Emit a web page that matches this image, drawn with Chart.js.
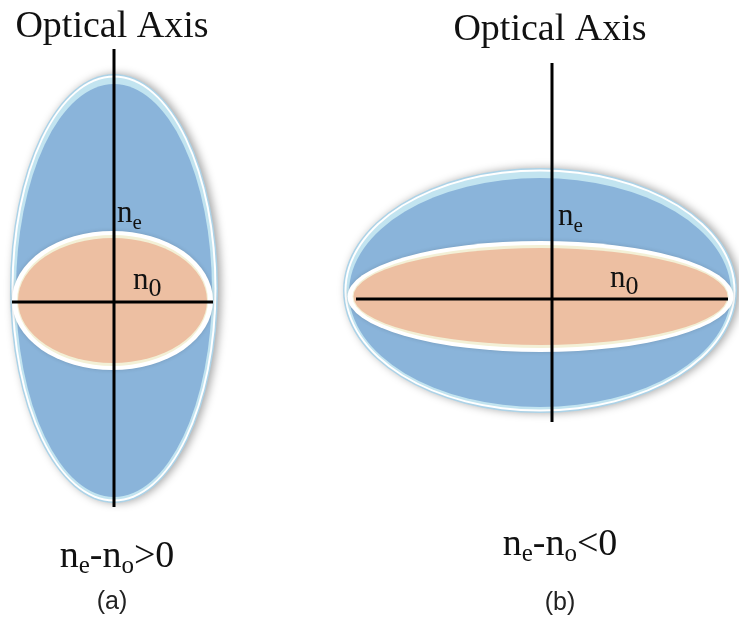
<!DOCTYPE html>
<html>
<head>
<meta charset="utf-8">
<title>Index ellipsoids</title>
<script src="https://cdn.jsdelivr.net/npm/chart.js@4/dist/chart.umd.min.js"></script>
<style>
  html, body { margin: 0; padding: 0; background: #ffffff; }
  #wrap { width: 739px; height: 624px; }
</style>
</head>
<body>
<div id="wrap"><canvas id="c" width="739" height="624"></canvas></div>
<script>
// Panels: (a) positive uniaxial crystal, (b) negative uniaxial crystal
const panelLabels = ['(a)', '(b)'];
const axisTitles = ['Optical Axis', 'Optical Axis'];
const signLabels = [
  [['n', 0], ['e', 1], ['-n', 0], ['o', 1], ['>0', 0]],
  [['n', 0], ['e', 1], ['-n', 0], ['o', 1], ['<0', 0]]
];

// Index ellipse (n_e along the optical axis), in plot units
const neCenterX = [114, 540];
const neCenterY = [288.5, 290.5];
const neSemiX = [104, 197];
const neSemiY = [214.5, 122.5];

// Ordinary cross-section (n_0)
const noCenterX = [112.5, 540.5];
const noCenterY = [300.5, 296.5];
const noSemiX = [100.5, 193];
const noSemiY = [69.5, 55.5];

// Optical axis (vertical) and ordinary axis (horizontal) segments
const opticAxisX = [114, 552];
const opticAxisTop = [49, 63];
const opticAxisBottom = [507, 422];
const ordAxisY = [302, 299];
const ordAxisLeft = [12, 356];
const ordAxisRight = [213, 728];

// Label anchors
const titleX = [112, 550];
const titleY = [37, 40];
const neLabelX = [117, 558];
const neLabelY = [222, 225];
const noLabelX = [133, 610];
const noLabelY = [289, 287];
const signX = [117, 560];
const signY = [567, 555];
const panelLabelX = [112, 560];
const panelLabelY = [609, 610];

const segments = [];
for (let i = 0; i < panelLabels.length; i++) {
  segments.push({
    label: 'optic axis ' + panelLabels[i],
    data: [{x: opticAxisX[i], y: opticAxisTop[i]}, {x: opticAxisX[i], y: opticAxisBottom[i]}]
  });
  segments.push({
    label: 'ordinary axis ' + panelLabels[i],
    data: [{x: ordAxisLeft[i], y: ordAxisY[i]}, {x: ordAxisRight[i], y: ordAxisY[i]}]
  });
}

function ell(ctx, xs, ys, cx, cy, rx, ry) {
  const px = xs.getPixelForValue(cx), py = ys.getPixelForValue(cy);
  const rpx = Math.abs(xs.getPixelForValue(cx + rx) - px);
  const rpy = Math.abs(ys.getPixelForValue(cy + ry) - py);
  ctx.beginPath();
  ctx.ellipse(px, py, Math.max(rpx, 0.5), Math.max(rpy, 0.5), 0, 0, Math.PI * 2);
}

const ellipsoidPlugin = {
  id: 'ellipsoids',
  beforeDatasetsDraw(chart) {
    const ctx = chart.ctx, xs = chart.scales.x, ys = chart.scales.y;
    for (let i = 0; i < panelLabels.length; i++) {
      const cx = neCenterX[i], cy = neCenterY[i], rx = neSemiX[i], ry = neSemiY[i];
      // extraordinary index ellipse with soft drop shadow
      ctx.save();
      ctx.shadowColor = 'rgba(0,0,0,0.35)';
      ctx.shadowBlur = 9;
      ctx.shadowOffsetX = 3;
      ctx.shadowOffsetY = 0;
      ell(ctx, xs, ys, cx, cy, rx, ry);
      ctx.fillStyle = '#acd3e8';
      ctx.fill();
      ctx.restore();
      ell(ctx, xs, ys, cx, cy, rx - 1.5, ry - 1.5);
      ctx.fillStyle = '#ffffff';
      ctx.fill();
      ell(ctx, xs, ys, cx, cy, rx - 3.5, ry - 3.5);
      ctx.fillStyle = '#c2e4f0';
      ctx.fill();
      ell(ctx, xs, ys, cx, cy + 2, rx - 6, ry - 8);
      ctx.fillStyle = '#8ab4da';
      ctx.fill();

      // ordinary cross-section
      const ox = noCenterX[i], oy = noCenterY[i], orx = noSemiX[i], ory = noSemiY[i];
      ctx.save();
      ctx.shadowColor = 'rgba(0,0,0,0.15)';
      ctx.shadowBlur = 4;
      ell(ctx, xs, ys, ox, oy, orx, ory);
      ctx.fillStyle = '#ffffff';
      ctx.fill();
      ctx.restore();
      ell(ctx, xs, ys, ox, oy, orx - 5, ory - 4);
      ctx.fillStyle = '#f3f0d6';
      ctx.fill();
      ell(ctx, xs, ys, ox, oy, orx - 6, ory - 7);
      ctx.fillStyle = '#edbfa2';
      ctx.fill();
    }
  },
  afterDatasetsDraw(chart) {
    const ctx = chart.ctx, xs = chart.scales.x, ys = chart.scales.y;
    const serif = '"Liberation Serif", "Times New Roman", serif';
    function runs(parts, x, y, size, subSize, subDrop, align) {
      ctx.save();
      ctx.fillStyle = '#111111';
      ctx.textBaseline = 'alphabetic';
      ctx.textAlign = 'left';
      let w = 0;
      parts.forEach(p => {
        ctx.font = (p[1] ? subSize : size) + 'px ' + serif;
        w += ctx.measureText(p[0]).width;
      });
      let px = xs.getPixelForValue(x) - (align === 'center' ? w / 2 : 0);
      const py = ys.getPixelForValue(y);
      parts.forEach(p => {
        ctx.font = (p[1] ? subSize : size) + 'px ' + serif;
        ctx.fillText(p[0], px, py + (p[1] ? subDrop : 0));
        px += ctx.measureText(p[0]).width;
      });
      ctx.restore();
    }
    for (let i = 0; i < panelLabels.length; i++) {
      runs([[axisTitles[i], 0]], titleX[i], titleY[i], 38, 38, 0, 'center');
      runs([['n', 0], ['e', 1]], neLabelX[i], neLabelY[i], 31, 21, 7, 'left');
      runs([['n', 0], ['0', 1]], noLabelX[i], noLabelY[i], 31, 26, 7, 'left');
      runs(signLabels[i], signX[i], signY[i], 38, 25, 6, 'center');
      ctx.save();
      ctx.fillStyle = '#222222';
      ctx.font = '25px "Liberation Sans", Arial, sans-serif';
      ctx.textAlign = 'center';
      ctx.textBaseline = 'alphabetic';
      ctx.fillText(panelLabels[i], xs.getPixelForValue(panelLabelX[i]), ys.getPixelForValue(panelLabelY[i]));
      ctx.restore();
    }
  }
};

new Chart(document.getElementById('c'), {
  type: 'scatter',
  data: {
    datasets: segments.map(s => ({
      label: s.label,
      data: s.data,
      showLine: true,
      borderColor: '#000000',
      borderWidth: 3,
      pointRadius: 0,
      borderCapStyle: 'butt',
      fill: false
    }))
  },
  options: {
    responsive: false,
    animation: false,
    devicePixelRatio: 1,
    layout: { padding: 0 },
    plugins: { legend: { display: false }, tooltip: { enabled: false }, title: { display: false } },
    scales: {
      x: { type: 'linear', min: 0, max: 739, display: false },
      y: { type: 'linear', min: 0, max: 624, reverse: true, display: false }
    }
  },
  plugins: [ellipsoidPlugin]
});
</script>
</body>
</html>
